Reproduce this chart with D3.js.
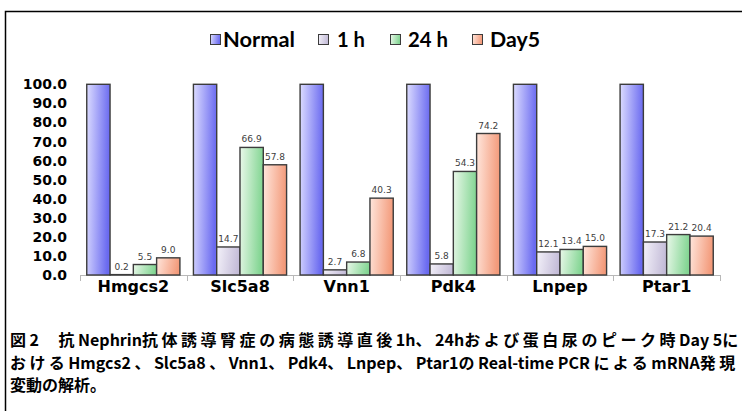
<!DOCTYPE html>
<html><head><meta charset="utf-8">
<script src="https://cdn.jsdelivr.net/npm/d3@7/dist/d3.min.js"></script>
<style>body{margin:0;background:#fff}svg{display:block}</style>
</head><body>
<svg id="c" width="742" height="411"></svg>
<script>
const categories = ["Hmgcs2","Slc5a8","Vnn1","Pdk4","Lnpep","Ptar1"];
const seriesNames = ["Normal","1 h","24 h","Day5"];
const normalVals = [100,100,100,100,100,100];
const h1Vals = [0.2,14.7,2.7,5.8,12.1,17.3];
const h24Vals = [5.5,66.9,6.8,54.3,13.4,21.2];
const day5Vals = [9.0,57.8,40.3,74.2,15.0,20.4];
const yTicks = [0,10,20,30,40,50,60,70,80,90,100];
const captionLines = [
  "図2　抗Nephrin抗体誘導腎症の病態誘導直後1h、24hおよび蛋白尿のピーク時Day 5に",
  "おけるHmgcs2 、Slc5a8 、Vnn1、Pdk4、Lnpep、Ptar1のReal-time PCR によるmRNA発現",
  "変動の解析。"
];
const seriesVals = [normalVals,h1Vals,h24Vals,day5Vals];
const gradStops = [["#dcdcff","#6a6af0"],["#f4f2fa","#c4bcd8"],["#eaf8ea","#82d592"],["#ffe6dc","#f39a7a"]];

const svg = d3.select("#c");
const defs = svg.append("defs");
gradStops.forEach((g,i)=>{
  const lg = defs.append("linearGradient").attr("id","g"+i).attr("x1","0").attr("y1","0").attr("x2","1").attr("y2","0.15");
  lg.append("stop").attr("offset","0").attr("stop-color",g[0]);
  lg.append("stop").attr("offset","1").attr("stop-color",g[1]);
});

// frame
svg.append("path").attr("d","M5.5,420 V11.5 H750").attr("fill","none").attr("stroke","#000").attr("stroke-width",1.5);

const x0 = d3.scaleBand().domain(categories).range([80,720]).paddingInner(0).paddingOuter(0);
const x1 = d3.scaleBand().domain(seriesNames).range([0,x0.bandwidth()]).paddingOuter(0.29).paddingInner(0);
const y = d3.scaleLinear().domain([0,100]).range([275,84.3]);

// y tick labels
svg.append("g").selectAll("text").data(yTicks).join("text")
  .attr("x",67).attr("y",d=>y(d)).attr("dy","0.36em").attr("text-anchor","end")
  .style("font-family","DejaVu Sans").style("font-weight","bold").style("font-size","14px").attr("fill","#000")
  .text(d=>d3.format(".1f")(d));

// x axis
const xAxis = svg.append("g").attr("transform","translate(0,275)");
xAxis.append("line").attr("x1",80).attr("x2",720).attr("y1",0.5).attr("y2",0.5).attr("stroke","#b8b8b8").attr("stroke-width",1);
const bounds = categories.map(c=>x0(c)).concat([720]);
xAxis.selectAll("line.t").data(bounds).join("line").attr("class","t")
  .attr("x1",d=>Math.round(d)+0.5).attr("x2",d=>Math.round(d)+0.5).attr("y1",0).attr("y2",6)
  .attr("stroke","#b8b8b8");

// bars
const groups = svg.append("g").selectAll("g").data(categories).join("g")
  .attr("transform",c=>`translate(${x0(c)},0)`);
groups.each(function(c,ci){
  const g = d3.select(this);
  seriesNames.forEach((s,si)=>{
    const v = seriesVals[si][ci];
    g.append("rect").attr("x",x1(s)).attr("y",y(v)).attr("width",x1.bandwidth()).attr("height",y(0)-y(v))
      .attr("fill",`url(#g${si})`).attr("stroke","#3c3c3c").attr("stroke-width",1.4);
    if(si>0){
      g.append("text").attr("x",x1(s)+x1.bandwidth()/2).attr("y",y(v)-5).attr("text-anchor","middle")
        .style("font-family","DejaVu Sans").style("font-size","9px").attr("fill","#404040").text(d3.format(".1f")(v));
    }
  });
});

// category labels
svg.append("g").selectAll("text").data(categories).join("text")
  .attr("x",c=>x0(c)+x0.bandwidth()/2).attr("y",292).attr("text-anchor","middle")
  .style("font-family","DejaVu Sans").style("font-weight","bold").style("font-size","16px").text(c=>c);

// legend
const legX = [210,318,390,472];
const legTx = [223,337,408,490];
const legW = [72,28,40,50];
const leg = svg.append("g");
seriesNames.forEach((s,i)=>{
  leg.append("rect").attr("x",legX[i]+0.5).attr("y",34.5).attr("width",10).attr("height",10)
    .attr("fill",`url(#g${i})`).attr("stroke","#3c3c3c").attr("stroke-width",1);
  leg.append("text").attr("x",legTx[i]).attr("y",46.5)
    .style("font-family","Lato").style("font-weight","bold").style("font-size","20px")
    .attr("textLength",legW[i]).attr("lengthAdjust","spacingAndGlyphs").text(s);
});

// caption (Japanese justified lines: extra spacing distributed over CJK characters)
const capTargets = [740, 737, null];
const isCJK = ch => /[\u3000-\u30ff\u4e00-\u9fff\uff00-\uffef]/.test(ch);
const cap = svg.append("g");
captionLines.forEach((line,i)=>{
  const t = cap.append("text").attr("x",10).attr("y",346+i*22.5)
    .style("font-family","Noto Sans CJK JP").style("font-weight","bold").style("font-size","16px");
  const runs = [];
  for(const ch of line){
    const c = isCJK(ch);
    if(runs.length && runs[runs.length-1].c===c) runs[runs.length-1].s += ch;
    else runs.push({c, s:ch});
  }
  const spans = runs.map(r=>t.append("tspan").text(r.s).datum(r));
  if(capTargets[i]){
    const nat = t.node().getComputedTextLength();
    const nC = [...line].filter(isCJK).length;
    const extra = (capTargets[i]-10-nat)/(nC-0.5);
    spans.forEach(sp=>{ if(sp.datum().c) sp.style("letter-spacing", extra+"px"); });
  }
});
</script>
</body></html>
